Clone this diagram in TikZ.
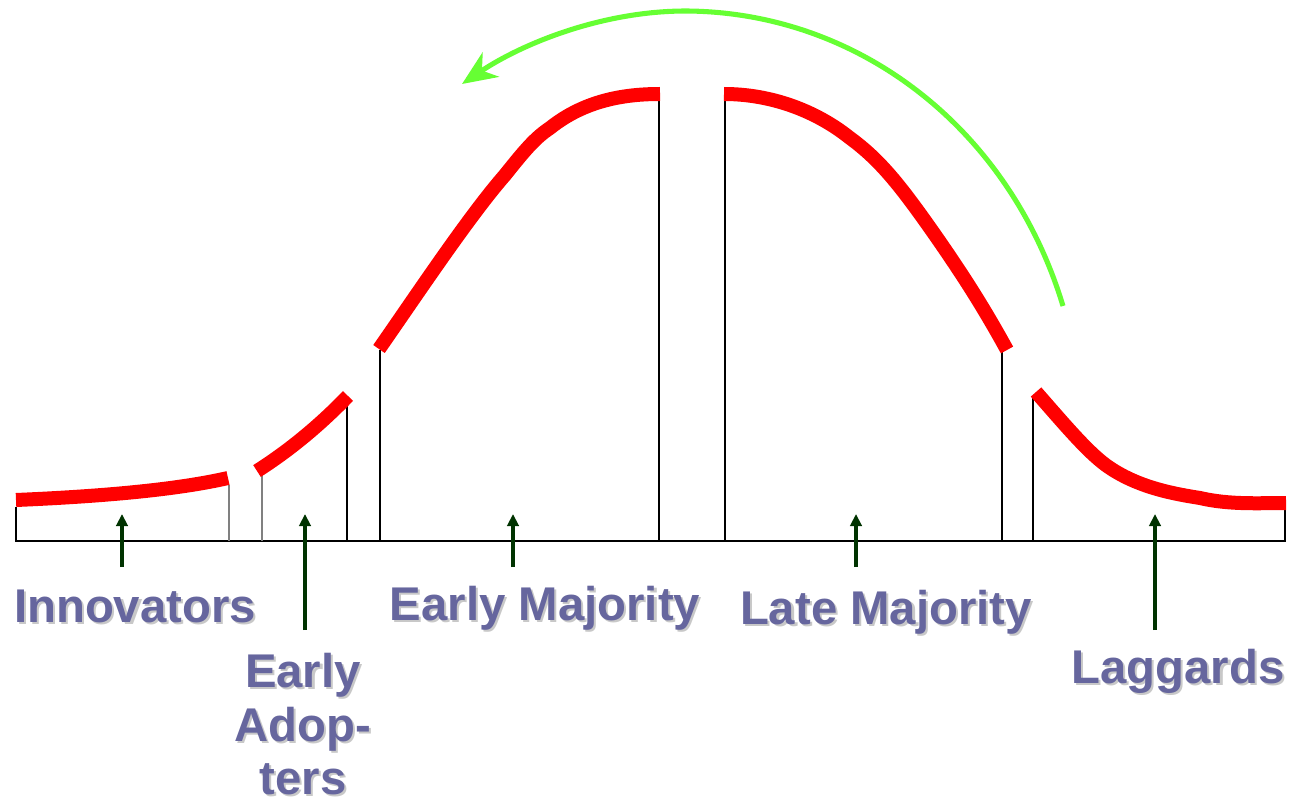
\documentclass[tikz,border=0pt]{standalone}
\usepackage{fontspec}
\setmainfont{Liberation Sans}
\usetikzlibrary{arrows.meta}
\definecolor{lblblue}{HTML}{66669E}
\definecolor{shadowgray}{HTML}{C8C8C8}
\definecolor{curvered}{HTML}{FF0000}
\definecolor{arrowgreen}{HTML}{66FF33}
\definecolor{darkgreen}{HTML}{003300}
\newcommand{\shd}[1]{\leavevmode\rlap{\kern1.6pt\raisebox{-1.6pt}{\color{shadowgray}#1}}#1}
\tikzset{
  redcurve/.style={draw=curvered, line width=10.5pt, line cap=butt, line join=round},
  divider/.style={draw=black, line width=1.1pt},
  graydivider/.style={draw=gray, line width=1.1pt},
  pointer/.style={draw=darkgreen, line width=2.3pt, -{Triangle[length=9pt,width=8.5pt]}},
  lbl/.style={text=lblblue, font=\fontsize{35.5}{40}\selectfont\bfseries, inner sep=0pt, anchor=base, align=center},
}
\begin{document}
\begin{tikzpicture}[x=0.75pt, y=-0.75pt]
\useasboundingbox (0,0) rectangle (1289,806);

% axis frame
\coordinate (a0) at (16,541);
\coordinate (a1) at (1285,541);
\coordinate (l0) at (16,507);
\coordinate (r0) at (1285,507);
\draw[divider] (l0) -- (a0) -- (a1) -- (r0);

% dividers
\coordinate (d1t) at (229,485); \coordinate (d1b) at (229,541);
\coordinate (d2t) at (262,474); \coordinate (d2b) at (262,541);
\coordinate (d3t) at (347,400); \coordinate (d3b) at (347,541);
\coordinate (d4t) at (380,350); \coordinate (d4b) at (380,541);
\coordinate (d5t) at (659,97);  \coordinate (d5b) at (659,541);
\coordinate (d6t) at (725,97);  \coordinate (d6b) at (725,541);
\coordinate (d7t) at (1002,352); \coordinate (d7b) at (1002,541);
\coordinate (d8t) at (1033,396); \coordinate (d8b) at (1033,541);
\draw[graydivider] (d1t) -- (d1b);
\draw[graydivider] (d2t) -- (d2b);
\draw[divider] (d3t) -- (d3b);
\draw[divider] (d4t) -- (d4b);
\draw[divider] (d5t) -- (d5b);
\draw[divider] (d6t) -- (d6b);
\draw[divider] (d7t) -- (d7b);
\draw[divider] (d8t) -- (d8b);

% red curve segments
\draw[redcurve] (16,500) .. controls (110,496) and (180,489) .. (228,478);
\draw[redcurve] (257,471) .. controls (290,450) and (320,425) .. (348,396);
\draw[redcurve] (379,349) .. controls (420,290) and (470,215) .. (505,175)
  .. controls (525,150) and (535,138) .. (550,128)
  .. controls (585,100) and (625,94) .. (660,94);
\draw[redcurve] (724,94) .. controls (770,94) and (815,110) .. (850,138)
  .. controls (880,160) and (900,185) .. (935,235)
  .. controls (965,278) and (985,310) .. (1007,350);
\draw[redcurve] (1036,392) .. controls (1065,425) and (1090,455) .. (1110,468)
  .. controls (1140,488) and (1175,494) .. (1200,498)
  .. controls (1230,505) and (1260,503) .. (1286,503);

% green arrow
\coordinate (gstart) at (1063,306);
\coordinate (gtop) at (686,11);
\coordinate (gend) at (462,84);
\draw[draw=arrowgreen, line width=3.8pt, -{Stealth[length=26pt,width=22pt,inset=8pt]}]
  (gstart) .. controls (1010,130) and (860,12) .. (gtop)
  .. controls (600,11) and (520,45) .. (gend);

% pointers
\coordinate (p1b) at (122,567); \coordinate (p1t) at (122,514);
\coordinate (p2b) at (305,630); \coordinate (p2t) at (305,514);
\coordinate (p3b) at (513,567); \coordinate (p3t) at (513,514);
\coordinate (p4b) at (856,567); \coordinate (p4t) at (856,514);
\coordinate (p5b) at (1155,630); \coordinate (p5t) at (1155,514);
\draw[pointer] (p1b) -- (p1t);
\draw[pointer] (p2b) -- (p2t);
\draw[pointer] (p3b) -- (p3t);
\draw[pointer] (p4b) -- (p4t);
\draw[pointer] (p5b) -- (p5t);

% labels with shadows
\node[lbl] (t1) at (135,622) {\shd{Innovators}};
\node[lbl] (t2a) at (303,687) {\shd{Early}};
\node[lbl] (t2b) at (303,741) {\shd{Adop-}};
\node[lbl] (t2c) at (303,794) {\shd{ters}};
\node[lbl] (t3) at (545,620) {\shd{Early Majority}};
\node[lbl] (t4) at (886,624) {\shd{Late Majority}};
\node[lbl] (t5) at (1178,683) {\shd{Laggards}};
\end{tikzpicture}
\end{document}
